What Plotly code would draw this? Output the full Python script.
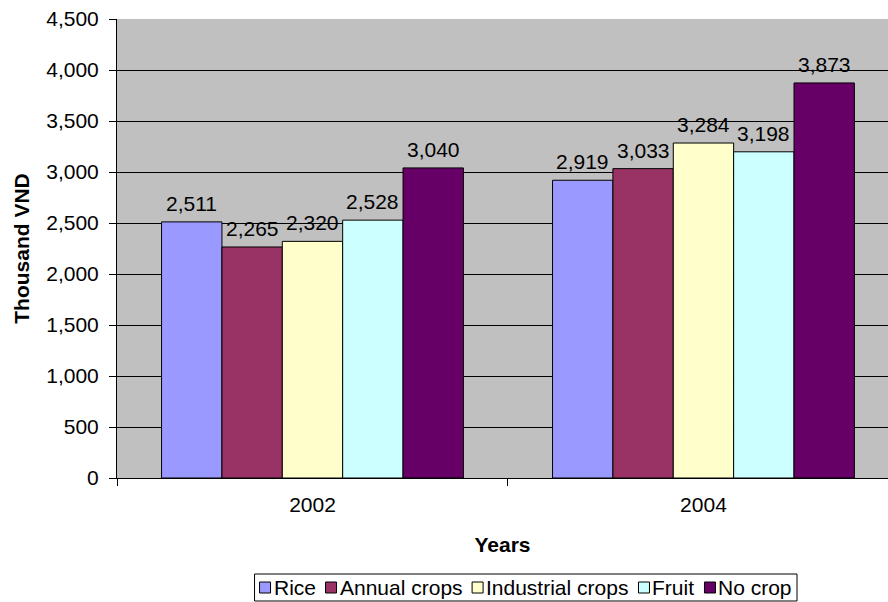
import plotly.graph_objects as go

years = ["2002", "2004"]
series_names = ["Rice", "Annual crops", "Industrial crops", "Fruit", "No crop"]
rice = [2511, 2919]
annual_crops = [2265, 3033]
industrial_crops = [2320, 3284]
fruit = [2528, 3198]
no_crop = [3040, 3873]
series_values = [rice, annual_crops, industrial_crops, fruit, no_crop]
colors = ["#9999FF", "#993366", "#FFFFCC", "#CCFFFF", "#660066"]

FONT = "Liberation Sans, Arial, sans-serif"
FS = 21
BARGAP = 0.228

# page geometry of the plotting area (px)
W, H = 888, 602
L, T, B = 117, 19, 124
PLOT_W, PLOT_H = W - L, H - T - B


def px_x(x):
    return (x - L) / PLOT_W


def px_y(y):
    return (H - B - y) / PLOT_H


# Arial / Liberation Sans advance widths (em) for legend layout
_WIDTHS = {
    " ": .278, "A": .667, "C": .722, "F": .611, "I": .278, "N": .722, "R": .722,
    "a": .556, "c": .5, "d": .556, "e": .556, "i": .222, "l": .222, "n": .556,
    "o": .556, "p": .556, "r": .333, "s": .5, "t": .278, "u": .556,
}


def text_width(s, size):
    return sum(_WIDTHS.get(ch, .556) for ch in s) * size


fig = go.Figure()
for name, vals, col in zip(series_names, series_values, colors):
    fig.add_trace(go.Bar(
        name=name, x=years, y=vals,
        marker=dict(color=col, line=dict(color="#000000", width=1)),
        showlegend=False,
    ))

annotations = []

# value labels above each bar (grouped-bar slot offsets on the category axis)
n_series = len(series_names)
slot = (1 - BARGAP) / n_series
for i, vals in enumerate(series_values):
    for j, v in enumerate(vals):
        annotations.append(dict(
            xref="x", yref="y", x=j + (i - (n_series - 1) / 2) * slot, y=v,
            text=f"{v:,}", showarrow=False, xanchor="center", yanchor="bottom",
            yshift=5, font=dict(family=FONT, size=FS, color="#000000"),
        ))

# legend drawn as a framed row of swatches and labels below the chart
LEG_FS = 21
SW = 11          # swatch size
GAP_SW = 3       # swatch -> label
GAP_ITEM = 10    # label -> next swatch
PAD = 5
leg_right = 797
leg_top, leg_bot = 574, 601
items_w = sum(SW + GAP_SW + text_width(n, LEG_FS) for n in series_names) + GAP_ITEM * (n_series - 1)
leg_left = leg_right - items_w - 2 * PAD
cy = (leg_top + leg_bot) / 2

shapes = [dict(type="rect", xref="paper", yref="paper",
               x0=px_x(leg_left), x1=px_x(leg_right), y0=px_y(leg_bot), y1=px_y(leg_top),
               line=dict(color="#000000", width=1), fillcolor="#FFFFFF", layer="above")]
cx = leg_left + PAD
for name, col in zip(series_names, colors):
    shapes.append(dict(type="rect", xref="paper", yref="paper",
                       x0=px_x(cx), x1=px_x(cx + SW), y0=px_y(cy + SW / 2), y1=px_y(cy - SW / 2),
                       line=dict(color="#000000", width=1), fillcolor=col, layer="above"))
    cx += SW + GAP_SW
    annotations.append(dict(xref="paper", yref="paper", x=px_x(cx), y=px_y(cy),
                            xanchor="left", yanchor="middle", text=name, showarrow=False,
                            font=dict(family=FONT, size=LEG_FS, color="#000000"),
                            borderpad=0, xshift=-1))
    cx += text_width(name, LEG_FS) + GAP_ITEM

fig.update_layout(
    width=W, height=H,
    margin=dict(l=L, r=0, t=T, b=B),
    paper_bgcolor="#FFFFFF", plot_bgcolor="#C0C0C0",
    barmode="group", bargap=BARGAP, bargroupgap=0,
    font=dict(family=FONT, size=FS, color="#000000"),
    showlegend=False,
    shapes=shapes, annotations=annotations,
)
fig.update_xaxes(
    type="category", range=[-0.5, 1.472],
    showline=True, linecolor="#000000", linewidth=1,
    ticks="outside", tickson="boundaries", ticklen=7, tickcolor="#000000",
    ticklabelstandoff=8,
    showgrid=False,
    title=dict(text="<b>Years</b>", font=dict(family=FONT, size=FS), standoff=22),
    tickfont=dict(family=FONT, size=FS),
)
fig.update_yaxes(
    range=[0, 4500], dtick=500, tickformat=",d",
    showline=True, linecolor="#000000", linewidth=1,
    ticks="outside", ticklen=7, tickcolor="#000000",
    ticklabelstandoff=6,
    showgrid=True, gridcolor="#000000", gridwidth=1,
    zeroline=False,
    title=dict(text="<b>Thousand VND</b>", font=dict(family=FONT, size=FS), standoff=10),
    tickfont=dict(family=FONT, size=FS),
)

fig.write_html("out.html")
